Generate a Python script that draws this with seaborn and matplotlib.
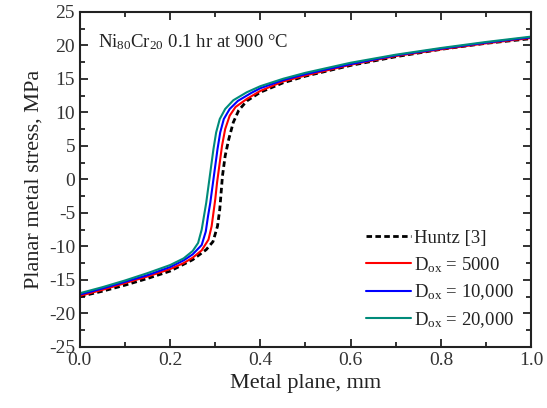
import numpy as np
import pandas as pd
import seaborn as sns
import matplotlib.pyplot as plt
from matplotlib.ticker import MultipleLocator

sns.set_style("ticks")
plt.rcParams['font.family'] = ['Liberation Serif', 'DejaVu Serif']
plt.rcParams['mathtext.fontset'] = 'custom'
plt.rcParams['mathtext.rm'] = 'Liberation Serif'
plt.rcParams['mathtext.it'] = 'Liberation Serif'
plt.rcParams['axes.unicode_minus'] = False

# Huntz [3] reference curve
huntz_x = [0.0, 0.05, 0.1, 0.15, 0.2, 0.25, 0.28, 0.295, 0.305, 0.31, 0.313, 0.316,
           0.322, 0.33, 0.34, 0.352, 0.37, 0.4, 0.45, 0.5, 0.6, 0.7, 0.8, 0.9, 1.0]
huntz_y = [-17.5, -16.7, -15.8, -14.8, -13.7, -12.0, -10.5, -9.3, -7.0, -4.5, -2.0, 0.5,
           3.5, 6.0, 8.5, 10.3, 11.7, 13.0, 14.4, 15.4, 17.0, 18.3, 19.4, 20.3, 21.0]

# D_ox = 5000
d5k_x = [0.0, 0.05, 0.1, 0.15, 0.2, 0.23, 0.25, 0.27, 0.285, 0.292, 0.296, 0.3, 0.304,
         0.309, 0.315, 0.322, 0.332, 0.345, 0.37, 0.4, 0.45, 0.5, 0.6, 0.7, 0.8, 0.9, 1.0]
d5k_y = [-17.4, -16.5, -15.5, -14.5, -13.4, -12.5, -11.7, -10.6, -9.0, -7.0, -5.0, -3.0, -0.5,
         2.0, 5.0, 7.5, 9.5, 10.8, 12.0, 13.2, 14.6, 15.5, 17.1, 18.4, 19.4, 20.3, 21.1]

# D_ox = 10,000
d10k_x = [0.0, 0.05, 0.1, 0.15, 0.2, 0.23, 0.25, 0.27, 0.279, 0.284, 0.289, 0.294, 0.299,
          0.305, 0.311, 0.319, 0.332, 0.35, 0.38, 0.4, 0.45, 0.5, 0.6, 0.7, 0.8, 0.9, 1.0]
d10k_y = [-17.2, -16.3, -15.3, -14.3, -13.1, -12.1, -11.2, -9.8, -7.8, -5.5, -3.5, -1.0, 1.5,
          4.5, 7.0, 9.0, 10.5, 11.7, 12.9, 13.6, 14.8, 15.7, 17.2, 18.5, 19.5, 20.4, 21.2]

# D_ox = 20,000
d20k_x = [0.0, 0.05, 0.1, 0.15, 0.2, 0.23, 0.25, 0.262, 0.27, 0.275, 0.28, 0.285, 0.29,
          0.296, 0.302, 0.31, 0.322, 0.34, 0.37, 0.4, 0.45, 0.5, 0.6, 0.7, 0.8, 0.9, 1.0]
d20k_y = [-17.0, -16.1, -15.1, -14.0, -12.8, -11.8, -10.7, -9.5, -7.5, -5.5, -3.5, -1.0, 1.5,
          4.5, 7.0, 9.0, 10.5, 11.8, 13.0, 13.9, 15.0, 15.9, 17.4, 18.6, 19.6, 20.5, 21.3]

fig = plt.figure(figsize=(5.47, 4.08), dpi=100)
ax = fig.add_axes([0.146, 0.150, 0.825, 0.821])

sns.lineplot(x=huntz_x, y=huntz_y, ax=ax, color='black', lw=2.0,
             linestyle=(0, (2.0, 1.2)), label='Huntz [3]', sort=False)
sns.lineplot(x=d5k_x, y=d5k_y, ax=ax, color='#ff0000', lw=1.5,
             label=r'D$_{\rm ox}$ = 5000', sort=False)
sns.lineplot(x=d10k_x, y=d10k_y, ax=ax, color='#0000ff', lw=1.5,
             label=r'D$_{\rm ox}$ = 10,000', sort=False)
sns.lineplot(x=d20k_x, y=d20k_y, ax=ax, color='#008b7a', lw=1.5,
             label=r'D$_{\rm ox}$ = 20,000', sort=False)

ax.set_xlim(0.0, 1.0)
ax.set_ylim(-25, 25)
ax.xaxis.set_major_locator(MultipleLocator(0.2))
ax.xaxis.set_minor_locator(MultipleLocator(0.1))
ax.yaxis.set_major_locator(MultipleLocator(5))
ax.yaxis.set_minor_locator(MultipleLocator(2.5))
ax.set_xticklabels([f'{v:.1f}' for v in ax.get_xticks()])
ax.tick_params(which='both', direction='in', top=True, right=True,
               labelsize=14, width=1.3, colors='#222222', labelcolor='#333333')
ax.tick_params(which='major', length=6)
ax.tick_params(which='minor', length=3.5)
for s in ax.spines.values():
    s.set_linewidth(1.5)
    s.set_color('#222222')

ax.set_xlabel('Metal plane, mm', fontsize=16, color='#222222')
ax.set_ylabel('Planar metal stress, MPa', fontsize=16, color='#222222')

ax.text(0.04, 0.895, r'Ni$_{80}$Cr$_{20}$ 0.1 hr at 900 °C', transform=ax.transAxes,
        fontsize=13.5, color='#222222', ha='left', va='baseline')

leg = ax.legend(loc='lower right', bbox_to_anchor=(1.0, 0.0), frameon=False,
                fontsize=13.5, handlelength=2.4, handletextpad=0.15, labelspacing=0.42)
for t in leg.get_texts():
    t.set_color('#222222')

fig.savefig('out.png', dpi=100)
